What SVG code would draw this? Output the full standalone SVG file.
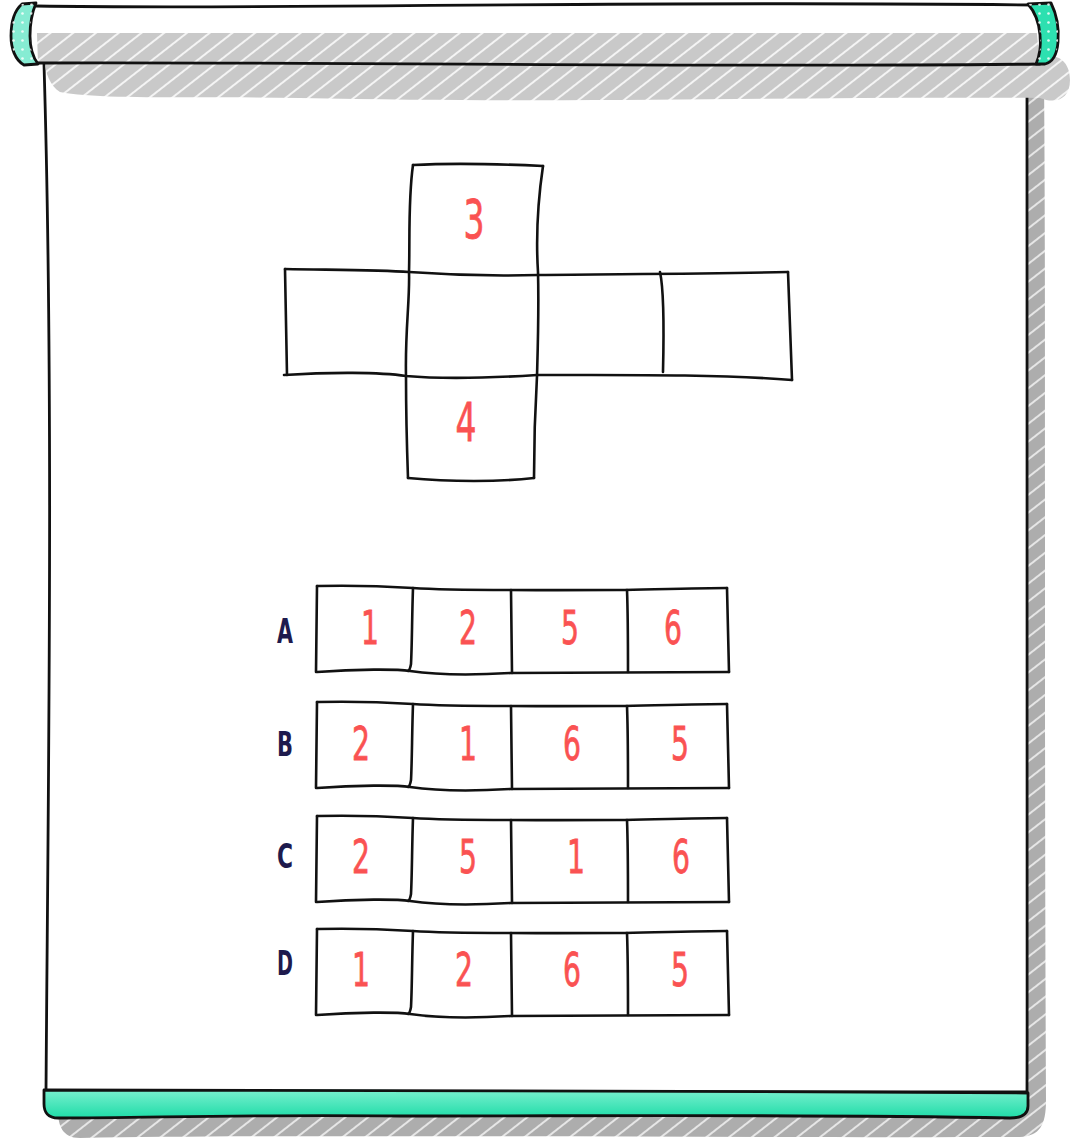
<svg xmlns="http://www.w3.org/2000/svg" width="1080" height="1140" viewBox="0 0 1080 1140">
<style>
.ln{fill:none;stroke:#111;stroke-width:2.6;stroke-linecap:round;stroke-linejoin:round}
.ol{stroke:#111;stroke-width:2.8;stroke-linejoin:round}
.num{font-family:"DejaVu Sans",sans-serif;fill:#fa5252;stroke:#fa5252;stroke-width:0.8;text-anchor:middle}
.lbl{font-family:"DejaVu Sans",sans-serif;font-weight:bold;fill:#1e1a4d;text-anchor:middle;font-size:33px}
</style>
<defs>
<pattern id="hatchD" patternUnits="userSpaceOnUse" width="14" height="14" patternTransform="rotate(52)">
<rect width="14" height="14" fill="#adadad"/><rect x="0" y="0" width="2" height="14" fill="#e6e6e6"/>
</pattern>
<pattern id="hatchL" patternUnits="userSpaceOnUse" width="14" height="14" patternTransform="rotate(52)">
<rect width="14" height="14" fill="#c9c9c9"/><rect x="0" y="0" width="2" height="14" fill="#f4f4f4"/>
</pattern>
<pattern id="dots" patternUnits="userSpaceOnUse" width="9" height="9">
<circle cx="4.5" cy="4.5" r="1.3" fill="#ffffff" opacity="0.85"/>
</pattern>
<linearGradient id="grn" x1="0" y1="0" x2="0" y2="1">
<stop offset="0" stop-color="#7af0cf"/><stop offset="1" stop-color="#1fdca8"/>
</linearGradient>
<clipPath id="rollClip">
<path d="M36 6 C300 10 600 0 1034 5 L1040 64 C700 68 400 62 38 63 Z"/>
</clipPath>
<g id="rowFrame">
<path class="ln" d="M0 0 C40 -1 80 1 96 2 C140 5 200 4 300 4 C350 3 390 2 410 2"/>
<path class="ln" d="M410 2 L412 86"/>
<path class="ln" d="M0 86 C40 83 80 83 93 85 C120 89 160 89 194 87 L412 86"/>
<path class="ln" d="M0 0 L-1 86"/>
<path class="ln" d="M96 2 C95 30 95 60 94 78 Q93 84 91 85"/>
<path class="ln" d="M194 4 L195 87"/>
<path class="ln" d="M310 4 C311 30 311 60 311 86"/>
</g>
</defs>

<g id="banner">
<path d="M60 80 L1044 80 C1046 300 1044 700 1046 1100 C1046 1125 1040 1136 1020 1137 C700 1138 300 1134 80 1138 C62 1138 58 1125 58 1110 Z" fill="url(#hatchD)"/>
<path class="ol" d="M44 64 L1027 64 C1026 300 1028 700 1027 1092 L46 1092 C48 800 54 400 44 64 Z" fill="#ffffff"/>
<path d="M45 62 C300 58 700 64 1035 60 C1055 50 1070 60 1070 80 C1070 100 1055 104 1040 98 C800 96 600 104 300 98 C200 96 100 100 60 92 C50 86 45 72 45 62 Z" fill="url(#hatchL)"/>
<path d="M36 6 C300 10 600 0 1034 5 L1040 64 C700 68 400 62 38 63 Z" fill="#ffffff"/>
<rect x="30" y="33" width="1020" height="40" fill="url(#hatchL)" clip-path="url(#rollClip)"/>
<path class="ln" d="M36 6 C300 10 600 0 1034 5 M1040 64 C700 68 400 62 38 63" style="stroke-width:2.8"/>
<path class="ol" d="M22 4 L36 3 C31 15 30 25 30 36 C30 48 32 56 38 64 L24 65 C15 60 11 48 11 36 C11 22 15 10 22 4 Z" fill="#86ecd3"/>
<path d="M22 4 L36 3 C31 15 30 25 30 36 C30 48 32 56 38 64 L24 65 C15 60 11 48 11 36 C11 22 15 10 22 4 Z" fill="url(#dots)"/>
<path class="ol" d="M1028 4 L1051 3 C1057 15 1059 30 1058 42 C1057 55 1053 62 1045 64 L1036 64 C1040 55 1041 45 1040 35 C1039 22 1035 12 1028 4 Z" fill="#2de0b0"/>
<path d="M1028 4 L1051 3 C1057 15 1059 30 1058 42 C1057 55 1053 62 1045 64 L1036 64 C1040 55 1041 45 1040 35 C1039 22 1035 12 1028 4 Z" fill="url(#dots)"/>
<path class="ol" d="M44 1090 C300 1088 700 1092 1028 1093 L1028 1106 C1028 1114 1022 1118 1010 1118 C800 1114 600 1116 400 1116 C250 1114 150 1118 58 1118 C48 1118 44 1112 44 1104 Z" fill="url(#grn)"/>
</g>

<g id="cross-net">
<path class="ln" d="M413 165 C450 163 500 164 543 166"/>
<path class="ln" d="M543 166 C538 200 536 240 538 272 C539 310 538 340 537 376 C535 410 534 450 534 478"/>
<path class="ln" d="M413 165 C408 200 410 240 409 272 C410 300 405 330 406 376 C406 410 407 450 408 478"/>
<path class="ln" d="M408 478 C450 482 500 482 534 478"/>
<path class="ln" d="M285 269 C340 270 380 270 409 272 C450 275 500 276 538 275 C620 274 700 274 788 272"/>
<path class="ln" d="M788 272 L792 380"/>
<path class="ln" d="M284 375 C330 372 380 372 406 376 C440 379 490 378 537 375 C620 375 720 374 792 380"/>
<path class="ln" d="M285 269 L287 375"/>
<path class="ln" d="M660 272 C664 290 664 330 663 372"/>
<text class="num" x="474" y="238" font-size="54" textLength="21" lengthAdjust="spacingAndGlyphs">3</text>
<text class="num" x="466" y="441" font-size="54" textLength="21" lengthAdjust="spacingAndGlyphs">4</text>
</g>

<g id="connectors"></g>

<g id="row-A">
<use href="#rowFrame" x="317" y="586"/>
<text class="lbl" x="285" y="643" textLength="16" lengthAdjust="spacingAndGlyphs">A</text>
<text class="num" x="370" y="644" font-size="46" textLength="18" lengthAdjust="spacingAndGlyphs">1</text>
<text class="num" x="468" y="644" font-size="46" textLength="18" lengthAdjust="spacingAndGlyphs">2</text>
<text class="num" x="570" y="644" font-size="46" textLength="18" lengthAdjust="spacingAndGlyphs">5</text>
<text class="num" x="673" y="644" font-size="46" textLength="18" lengthAdjust="spacingAndGlyphs">6</text>
</g>
<g id="row-B">
<use href="#rowFrame" x="317" y="702"/>
<text class="lbl" x="285" y="756" textLength="16" lengthAdjust="spacingAndGlyphs">B</text>
<text class="num" x="361" y="760" font-size="46" textLength="18" lengthAdjust="spacingAndGlyphs">2</text>
<text class="num" x="468" y="760" font-size="46" textLength="18" lengthAdjust="spacingAndGlyphs">1</text>
<text class="num" x="572" y="760" font-size="46" textLength="18" lengthAdjust="spacingAndGlyphs">6</text>
<text class="num" x="680" y="760" font-size="46" textLength="18" lengthAdjust="spacingAndGlyphs">5</text>
</g>
<g id="row-C">
<use href="#rowFrame" x="317" y="816"/>
<text class="lbl" x="285" y="868" textLength="16" lengthAdjust="spacingAndGlyphs">C</text>
<text class="num" x="361" y="873" font-size="46" textLength="18" lengthAdjust="spacingAndGlyphs">2</text>
<text class="num" x="468" y="873" font-size="46" textLength="18" lengthAdjust="spacingAndGlyphs">5</text>
<text class="num" x="576" y="873" font-size="46" textLength="18" lengthAdjust="spacingAndGlyphs">1</text>
<text class="num" x="681" y="873" font-size="46" textLength="18" lengthAdjust="spacingAndGlyphs">6</text>
</g>
<g id="row-D">
<use href="#rowFrame" x="317" y="929"/>
<text class="lbl" x="285" y="975" textLength="16" lengthAdjust="spacingAndGlyphs">D</text>
<text class="num" x="361" y="986" font-size="46" textLength="18" lengthAdjust="spacingAndGlyphs">1</text>
<text class="num" x="464" y="986" font-size="46" textLength="18" lengthAdjust="spacingAndGlyphs">2</text>
<text class="num" x="572" y="986" font-size="46" textLength="18" lengthAdjust="spacingAndGlyphs">6</text>
<text class="num" x="680" y="986" font-size="46" textLength="18" lengthAdjust="spacingAndGlyphs">5</text>
</g>
</svg>
